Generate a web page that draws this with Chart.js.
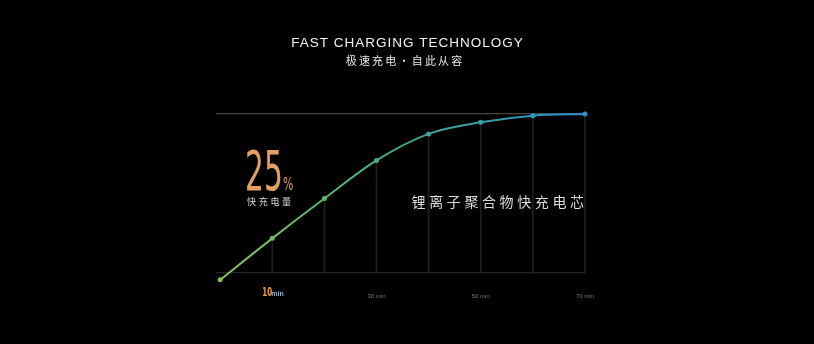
<!DOCTYPE html>
<html>
<head>
<meta charset="utf-8">
<script src="https://cdn.jsdelivr.net/npm/chart.js@4"></script>
<style>
  html, body { margin: 0; padding: 0; background: #000; }
  #wrap { width: 814px; height: 344px; }
</style>
</head>
<body>
<div id="wrap"><canvas id="chart" width="814" height="344"></canvas></div>
<script>
// charge level (%) against charging time (min)
const minutes = [0, 10, 20, 30, 40, 50, 60, 70];
const chargeLevel = [0, 25, 49, 72, 88, 95, 99, 100];
const tickMinutes = [10, 30, 50, 70];
const baselineLevel = 4.2;

const pointColors = ['#8cc34f', '#74bb58', '#5fb464', '#4cae7a', '#3ea893', '#34a2a9', '#2e9abe', '#2a8fcf'];

const CJK = '"Noto Sans CJK SC", "Noto Sans", sans-serif';

function lineGradient(ctx) {
  const area = ctx.chart.chartArea;
  if (!area) return '#5fb464';
  const g = ctx.chart.ctx.createLinearGradient(area.left, 0, area.right, 0);
  g.addColorStop(0, '#8cc34f');
  g.addColorStop(0.5, '#3fa98d');
  g.addColorStop(1, '#2a8fcf');
  return g;
}

function spaced(ctx, text, x, y, spacing, align) {
  ctx.letterSpacing = spacing + 'px';
  // letterSpacing adds trailing space, compensate for centred / right text
  const w = ctx.measureText(text).width - spacing;
  let sx = x;
  if (align === 'center') sx = x - w / 2;
  if (align === 'right') sx = x - w;
  ctx.textAlign = 'left';
  ctx.fillText(text, sx, y);
  ctx.letterSpacing = '0px';
}

const textPlugin = {
  id: 'texts',
  afterDraw(chart) {
    const ctx = chart.ctx;
    const xs = chart.scales.x;
    ctx.save();
    ctx.textBaseline = 'alphabetic';

    ctx.fillStyle = '#f2f2f2';
    ctx.font = '13.5px "Liberation Sans", Arial, sans-serif';
    spaced(ctx, 'FAST CHARGING TECHNOLOGY', 407, 47, 1, 'center');

    ctx.font = '11px ' + CJK;
    ctx.fillStyle = '#e6e6e6';
    spaced(ctx, '极速充电·自此从容', 404, 65, 2.2, 'center');

    // big figure
    ctx.fillStyle = '#e2a05e';
    ctx.save();
    ctx.translate(245, 190);
    ctx.scale(0.54, 1);
    ctx.font = '55px "DejaVu Sans", sans-serif';
    ctx.fillText('25', 0, 0);
    ctx.restore();
    ctx.save();
    ctx.translate(283, 190);
    ctx.scale(0.6, 1);
    ctx.font = '18px "DejaVu Sans", sans-serif';
    ctx.fillText('%', 0, 0);
    ctx.restore();

    ctx.fillStyle = '#d8d8d8';
    ctx.font = '9px ' + CJK;
    spaced(ctx, '快充电量', 247, 205, 2.7, 'left');

    ctx.fillStyle = '#dedede';
    ctx.font = '14px ' + CJK;
    spaced(ctx, '锂离子聚合物快充电芯', 584, 207, 3.6, 'right');

    // highlighted 10 min tick
    const x10 = xs.getPixelForValue(10);
    ctx.save();
    ctx.translate(x10 - 10, 296);
    ctx.scale(0.55, 1);
    ctx.fillStyle = '#f0a030';
    ctx.font = 'bold 13px "DejaVu Sans", sans-serif';
    ctx.fillText('10', 0, 0);
    ctx.restore();
    ctx.fillStyle = '#8fb8e0';
    ctx.font = 'bold 7px "Liberation Sans", sans-serif';
    ctx.fillText('min', x10 - 1, 296);
    ctx.restore();
  }
};

new Chart(document.getElementById('chart'), {
  type: 'line',
  data: {
    datasets: [
      {
        type: 'line',
        data: minutes.map((m, i) => ({ x: m, y: chargeLevel[i] })),
        borderColor: lineGradient,
        borderWidth: 2,
        pointRadius: 2.5,
        pointHoverRadius: 2.5,
        pointBackgroundColor: pointColors,
        pointBorderWidth: 0,
        cubicInterpolationMode: 'monotone',
        clip: false,
        order: 0
      },
      {
        // drop lines from each point to the baseline
        type: 'bar',
        data: minutes.slice(1).map((m, i) => ({ x: m, y: [baselineLevel, chargeLevel[i + 1]] })),
        backgroundColor: '#1f1f1f',
        barThickness: 1,
        order: 1
      }
    ]
  },
  options: {
    responsive: false,
    animation: false,
    layout: { padding: { left: 216, right: 228, top: 114, bottom: 39 } },
    plugins: { legend: { display: false }, tooltip: { enabled: false } },
    scales: {
      x: {
        type: 'linear',
        min: -0.8,
        max: 70.2,
        offset: false,
        grid: { display: false },
        border: { display: false },
        afterBuildTicks: (axis) => { axis.ticks = tickMinutes.map(v => ({ value: v })); },
        ticks: {
          padding: 5,
          color: '#777',
          font: { size: 6, family: '"Liberation Sans", sans-serif' },
          callback: (v) => v === 10 ? '' : v + ' min'
        }
      },
      y: {
        min: 0,
        max: 100,
        afterBuildTicks: (axis) => { axis.ticks = [{ value: baselineLevel }, { value: 100 }]; },
        ticks: { display: false },
        grid: {
          drawTicks: false,
          lineWidth: 1.2,
          color: (c) => c.tick && c.tick.value === 100 ? '#444' : '#262626'
        },
        border: { display: false }
      }
    }
  },
  plugins: [textPlugin]
});
</script>
</body>
</html>
